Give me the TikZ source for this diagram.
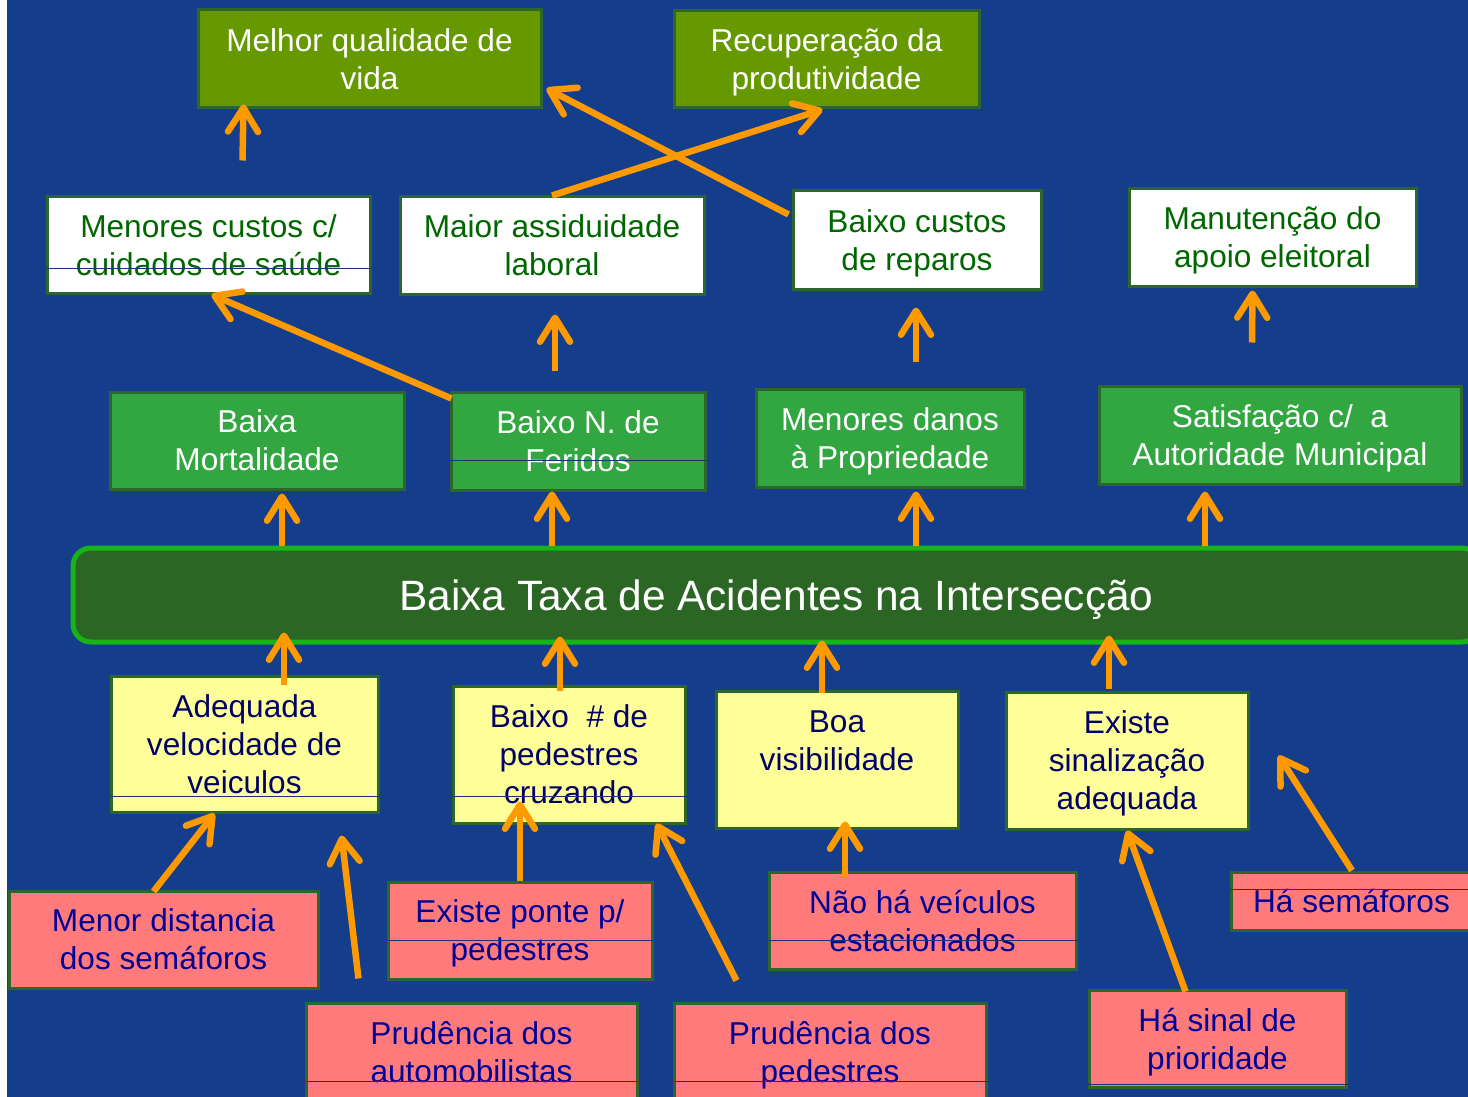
\documentclass[tikz,border=0pt]{standalone}
\usepackage{fontspec}
\setmainfont{Liberation Sans}
\usetikzlibrary{arrows.meta,calc}
\definecolor{bg}{HTML}{143E8B}
\definecolor{bord}{HTML}{2D662D}
\definecolor{olive}{HTML}{669900}
\definecolor{midgreen}{HTML}{31A641}
\definecolor{bardark}{HTML}{2B6624}
\definecolor{barline}{HTML}{17B317}
\definecolor{yel}{HTML}{FFFF99}
\definecolor{pink}{HTML}{FF7B7B}
\definecolor{orng}{HTML}{FF9900}
\definecolor{txtgreen}{HTML}{006600}
\definecolor{txtnavy}{HTML}{000066}
\definecolor{txtblue}{HTML}{000099}
\definecolor{strikeline}{HTML}{1B3275}
\newcommand\bx[7]{\node[#2, minimum width={#5-#3}, minimum height={#6-#4}] (#1) at ({(#3+#5)/2},{(#4+#6)/2}) {#7};}
\begin{document}
\begin{tikzpicture}[x=1pt,y=-1pt,
  box/.style={draw=bord, line width=3pt, inner sep=0pt, align=center, text depth=0pt, font=\fontsize{31.6}{38}\selectfont},
  topbox/.style={box, fill=olive, text=white},
  whitebox/.style={box, fill=white, text=txtgreen},
  greenbox/.style={box, fill=midgreen, text=white},
  yelbox/.style={box, fill=yel, text=txtnavy},
  pinkbox/.style={box, fill=pink, text=txtblue},
  barbox/.style={draw=barline, line width=5pt, fill=bardark, rounded corners=18pt, inner sep=0pt, text=white, text depth=0pt, font=\fontsize{42.4}{48}\selectfont},
  arr/.style={draw=orng, line width=6.5pt, -{Straight Barb[length=24pt,width=30pt,round]}},
  strike/.style={draw=strikeline, line width=1.2pt}]
\useasboundingbox (0,0) rectangle (1468,1097);
\clip (0,0) rectangle (1468,1097);
\fill[white] (0,0) rectangle (1468,1097);
\fill[bg] (7,0) rectangle (1468,1097);

% top row
\bx{B1}{topbox}{198}{10}{541}{108}{Melhor qualidade de\\vida}
\bx{B2}{topbox}{674}{11}{979}{108}{Recuperação da\\produtividade}
% white row
\bx{W1}{whitebox}{47}{197}{370}{293}{Menores custos c/\\cuidados de saúde}
\bx{W2}{whitebox}{400}{197}{704}{294}{Maior assiduidade\\laboral}
\bx{W3}{whitebox}{793}{191}{1041}{289}{Baixo custos\\de reparos}
\bx{W4}{whitebox}{1129}{189}{1416}{286}{Manutenção do\\apoio eleitoral}
% green row
\bx{G1}{greenbox}{110}{392}{404}{489}{Baixa\\Mortalidade}
\bx{G2}{greenbox}{451}{392}{705}{490}{Baixo N. de\\Feridos}
\bx{G3}{greenbox}{756}{389}{1024}{487}{Menores danos\\à Propriedade}
\bx{G4}{greenbox}{1099}{386}{1461}{484}{Satisfação c/~~a\\Autoridade Municipal}
% central bar
\bx{bar}{barbox}{73}{548}{1480}{642}{Baixa Taxa de Acidentes na Intersecção}
% yellow row
\bx{Y1}{yelbox}{111}{676}{378}{812}{Adequada\\velocidade de\\veiculos}
\bx{Y2}{yelbox}{453}{686}{685}{823}{Baixo~~\# de\\pedestres\\cruzando}
\bx{Y3}{yelbox}{716}{691}{958}{828}{Boa\\visibilidade\\\mbox{}}
\bx{Y4}{yelbox}{1006}{692}{1248}{829}{Existe\\sinalização\\adequada}
% pink row
\bx{P1}{pinkbox}{9}{891}{318}{988}{Menor distancia\\dos semáforos}
\bx{P2}{pinkbox}{388}{882}{652}{979}{Existe ponte p/\\pedestres}
\bx{P3}{pinkbox}{306}{1003}{637}{1100}{Prudência dos\\automobilistas}
\bx{P4}{pinkbox}{674}{1003}{986}{1100}{Prudência dos\\pedestres}
\bx{P5}{pinkbox}{769}{872}{1076}{969}{Não há veículos\\estacionados}
\bx{P6}{pinkbox}{1089}{990}{1346}{1087}{Há sinal de\\prioridade}
\bx{P7}{pinkbox}{1231}{872}{1472}{930}{Há semáforos}

% thin lines across some boxes
\draw[strike] ($(W1.south west)+(0,-26)$) -- ($(W1.south east)+(0,-26)$);
\draw[strike] ($(G2.south west)+(0,-31)$) -- ($(G2.south east)+(0,-31)$);
\draw[strike] ($(Y1.south west)+(0,-17)$) -- ($(Y1.south east)+(0,-17)$);
\draw[strike] ($(Y2.south west)+(0,-28)$) -- ($(Y2.south east)+(0,-28)$);
\draw[strike] ($(P2.south west)+(0,-40)$) -- ($(P2.south east)+(0,-40)$);
\draw[strike] ($(P5.south west)+(0,-30)$) -- ($(P5.south east)+(0,-30)$);
\draw[strike] ($(P3.north west)+(0,80)$) -- ($(P3.north east)+(0,80)$);
\draw[strike] ($(P4.north west)+(0,80)$) -- ($(P4.north east)+(0,80)$);
\draw[strike] ($(P6.south west)+(0,-4)$) -- ($(P6.south east)+(0,-4)$);
\draw[strike] ($(P7.north west)+(0,19)$) -- ($(P7.north east)+(0,19)$);

% column coordinates
\coordinate (xa) at (282,0);
\coordinate (xb) at (552,0);
\coordinate (xc) at (916,0);
\coordinate (xd) at (1205,0);
\coordinate (xe) at (284,0);
\coordinate (xf) at (560,0);
\coordinate (xg) at (822,0);
\coordinate (xh) at (1109,0);

% arrows upper part
\draw[arr] ($(W1.north)+(34,-35)$) -- ($(B1.south)+(-126,-5)$);
\draw[arr] (W2.north) -- ($(B2.south)+(-4,0)$);
\draw[arr] ($(W3.north west)+(-3,25)$) -- ($(B1.south east)+(4,-21)$);
\draw[arr] ($(G2.north west)+(2,8)$) -- ($(W1.south)+(3,0)$);
\draw[arr] ($(G2.north)+(-23,-20)$) -- ($(W2.south)+(3,19)$);
\draw[arr] ($(G3.north)+(26,-26)$) -- ($(W3.south)+(-1,17)$);
\draw[arr] ($(G4.north)+(-28,-42)$) -- ($(W4.south)+(-20,3)$);
% bar to green row
\draw[arr] (bar.north -| xa) -- ($(G1.south -| xa)+(0,3)$);
\draw[arr] (bar.north -| xb) -- (G2.south -| xb);
\draw[arr] (bar.north -| xc) -- ($(G3.south -| xc)+(0,3)$);
\draw[arr] (bar.north -| xd) -- ($(G4.south -| xd)+(0,6)$);
% yellow row to bar
\draw[arr] ($(Y1.north -| xe)+(0,10)$) -- ($(bar.south -| xe)+(0,-12)$);
\draw[arr] ($(Y2.north -| xf)+(0,6)$) -- ($(bar.south -| xf)+(0,-8)$);
\draw[arr] ($(Y3.north -| xg)+(0,3)$) -- ($(bar.south -| xg)+(0,-4)$);
\draw[arr] ($(Y4.north -| xh)+(0,-2)$) -- ($(bar.south -| xh)+(0,-9)$);
% pink row to yellow row
\draw[arr] ($(P1.north)+(-10,2)$) -- ($(Y1.south)+(-30,0)$);
\draw[arr] ($(P3.north west)+(54,-23)$) -- ($(Y1.south east)+(-38,22)$);
\draw[arr] (P2.north) -- ($(Y2.south)+(-49,-23)$);
\draw[arr] ($(P4.north west)+(64,-21)$) -- ($(Y2.south east)+(-30,-1)$);
\draw[arr] ($(P5.north)+(-77.5,6)$) -- ($(Y3.south)+(8,-8)$);
\draw[arr] ($(P6.north)+(-32,3)$) -- (Y4.south);
\draw[arr] ($(P7.north)+(0.5,0)$) -- ($(Y4.east)+(29,-5)$);
\end{tikzpicture}
\end{document}
